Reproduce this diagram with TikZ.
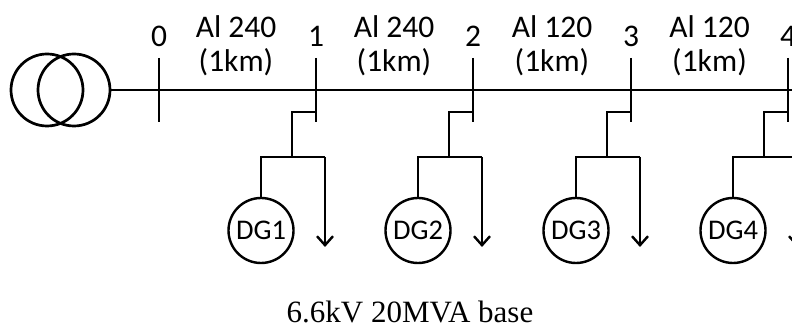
\documentclass[tikz,border=0pt]{standalone}
\usepackage{fontspec}
\setmainfont{Carlito}
\newfontfamily\serifb{Liberation Serif}
\usetikzlibrary{arrows.meta}
\begin{document}
\begin{tikzpicture}[x=1pt,y=-1pt,
  wire/.style={line width=2.7pt},
  lbl/.style={font=\fontsize{31.5}{33}\selectfont, inner sep=0pt, anchor=base},
  busbar/.style={line width=2.7pt},
  xf/.style={circle, draw, line width=2.7pt, minimum size=72pt, inner sep=0pt},
  dg/.style={circle, draw, line width=2.4pt, minimum size=65pt, inner sep=0pt, font=\fontsize{28.5}{30}\selectfont},
  load/.style={line width=2.4pt, -{Straight Barb[length=9pt,width=16pt,line width=2.4pt]}}]
\useasboundingbox (0,0) rectangle (792,328);
% transformer
\node[xf] (t1) at (47,90) {};
\node[xf] (t2) at (74,90) {};
% bus bars
\foreach \i/\x in {0/159,1/316,2/473,3/631,4/788}{
  \coordinate (bt\i) at (\x,58);
  \coordinate (bb\i) at (\x,122);
  \coordinate (bm\i) at (\x,90);
  \draw[busbar] (bt\i) -- (bb\i);
  \node[lbl] (bl\i) at (\x,47) {\i};
}
\draw[wire] (t2.east) -- (bm4) -- ++(10,0);
% line labels
\foreach \j/\x/\t in {a/236/Al 240,b/394/Al 240,c/552/Al 120,d/709.5/Al 120}{
  \node[lbl] (ln\j) at (\x,38) {\t};
  \node[lbl] (lk\j) at (\x,72) {(1km)};
}
% branches
\foreach \i/\x in {1/316,2/473,3/631,4/788}{
  \pgfmathsetmacro{\br}{\x-24}
  \pgfmathsetmacro{\dx}{\br-31}
  \pgfmathsetmacro{\lx}{\br+33}
  \coordinate (tap\i) at (\x,112);
  \coordinate (k\i) at (\br,112);
  \coordinate (j\i) at (\br,157);
  \coordinate (dj\i) at (\dx,157);
  \coordinate (lj\i) at (\lx,157);
  \coordinate (lt\i) at (\lx,247);
  \node[dg] (dg\i) at (\dx,230.5) {DG\i};
  \draw[wire] (tap\i) -- (k\i) -- (j\i);
  \draw[line width=2.4pt] (dg\i.north) -- (dj\i) -- (lj\i);
  \draw[load] (lj\i) -- (lt\i);
}
\node[font=\serifb\fontsize{31}{33}\selectfont, inner sep=0pt, anchor=base] (base) at (410,323) {6.6kV 20MVA base};
\end{tikzpicture}
\end{document}
